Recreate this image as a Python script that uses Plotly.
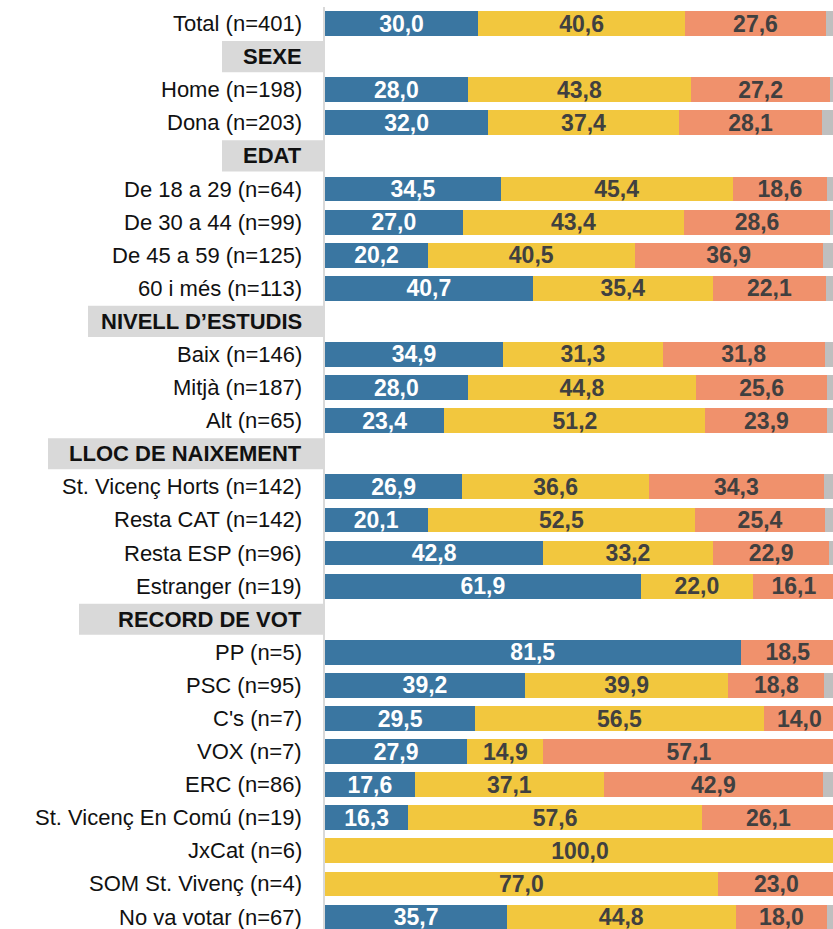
import plotly.graph_objects as go

# row labels, top to bottom (section headers included)
rows = [
    "Total (n=401)", "SEXE", "Home (n=198)", "Dona (n=203)",
    "EDAT", "De 18 a 29 (n=64)", "De 30 a 44 (n=99)", "De 45 a 59 (n=125)", "60 i més (n=113)",
    "NIVELL D’ESTUDIS", "Baix (n=146)", "Mitjà (n=187)", "Alt (n=65)",
    "LLOC DE NAIXEMENT", "St. Vicenç Horts (n=142)", "Resta CAT (n=142)", "Resta ESP (n=96)", "Estranger (n=19)",
    "RECORD DE VOT", "PP (n=5)", "PSC (n=95)", "C's (n=7)", "VOX (n=7)", "ERC (n=86)",
    "St. Vicenç En Comú (n=19)", "JxCat (n=6)", "SOM St. Vivenç (n=4)", "No va votar (n=67)",
]
sections = ["SEXE", "EDAT", "NIVELL D’ESTUDIS", "LLOC DE NAIXEMENT", "RECORD DE VOT"]

blue = [30.0, None, 28.0, 32.0, None, 34.5, 27.0, 20.2, 40.7, None, 34.9, 28.0, 23.4,
        None, 26.9, 20.1, 42.8, 61.9, None, 81.5, 39.2, 29.5, 27.9, 17.6, 16.3, 0, 0, 35.7]
yellow = [40.6, None, 43.8, 37.4, None, 45.4, 43.4, 40.5, 35.4, None, 31.3, 44.8, 51.2,
          None, 36.6, 52.5, 33.2, 22.0, None, 0, 39.9, 56.5, 14.9, 37.1, 57.6, 100.0, 77.0, 44.8]
salmon = [27.6, None, 27.2, 28.1, None, 18.6, 28.6, 36.9, 22.1, None, 31.8, 25.6, 23.9,
          None, 34.3, 25.4, 22.9, 16.1, None, 18.5, 18.8, 14.0, 57.1, 42.9, 26.1, 0, 23.0, 18.0]
grey = [1.8, None, 1.0, 2.5, None, 1.5, 1.0, 2.4, 1.8, None, 2.0, 1.6, 1.5,
        None, 2.2, 2.0, 1.1, 0, None, 0, 2.1, 0, 0.1, 2.4, 0, 0, 0, 1.5]

FONT = "Liberation Sans, Arial, sans-serif"
L, R = 325, 833          # plot area in px
W = R - L

def fmt(vals):
    return [f"{v:.1f}".replace(".", ",") if v else "" for v in vals]

ypos = list(range(len(rows)))

fig = go.Figure()
for vals, col, tcol in [(blue, "#3A76A1", "white"),
                        (yellow, "#F2C73E", "#404040"),
                        (salmon, "#F0916C", "#404040"),
                        (grey, "#BFBFBF", "#404040")]:
    show_text = col != "#BFBFBF"
    fig.add_bar(
        x=vals, y=ypos, orientation="h", width=0.75,
        marker=dict(color=col, line=dict(width=0)),
        text=fmt(vals) if show_text else None,
        textposition="inside", insidetextanchor="middle", textangle=0,
        constraintext="none",
        textfont=dict(family=FONT, size=23, color=tcol, weight="bold"),
        hoverinfo="skip", showlegend=False,
    )

# row labels as annotations so the last one is not dropped at the edge
annotations = []
for i, r in enumerate(rows):
    annotations.append(dict(
        xref="paper", yref="y", x=(304 - L) / W, y=i, xanchor="right", yanchor="middle",
        text=f"<b>{r}</b>" if r in sections else r, showarrow=False,
        font=dict(family=FONT, size=22, color="#111111")))

# grey boxes behind section headers (left edge in px)
box_left = {"SEXE": 222, "EDAT": 222, "NIVELL D’ESTUDIS": 88,
            "LLOC DE NAIXEMENT": 48, "RECORD DE VOT": 79}
shapes = []
for name, px in box_left.items():
    i = rows.index(name)
    shapes.append(dict(type="rect", xref="paper", yref="y",
                       x0=(px - L) / W, x1=(323 - L) / W,
                       y0=i - 0.47, y1=i + 0.47,
                       fillcolor="#D9D9D9", line=dict(width=0), layer="below"))

fig.update_layout(
    width=833, height=929,
    margin=dict(l=L, r=833 - R, t=7, b=0, autoexpand=False),
    barmode="stack", bargap=0.25,
    plot_bgcolor="white", paper_bgcolor="white",
    font=dict(family=FONT, color="#111111"),
    shapes=shapes, annotations=annotations,
    xaxis=dict(range=[0, 99.6], visible=False, fixedrange=True),
    yaxis=dict(range=[27.36, -0.5], showticklabels=False,
               showgrid=False, zeroline=False, ticks="",
               showline=True, linecolor="#D9D9D9", linewidth=2, automargin=False,
               fixedrange=True),
)

fig.write_html("out.html", config={"displayModeBar": False},
               post_script="document.body.style.margin='0';document.body.style.overflow='hidden';")
